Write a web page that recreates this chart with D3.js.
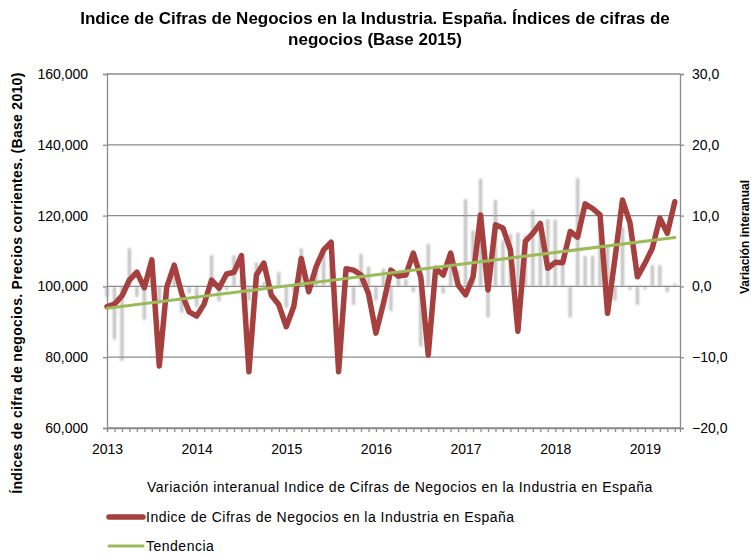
<html>
<head>
  <meta charset='utf-8' />
  <style>
    body { margin: 0; padding: 0; background: #fff; }
    text { font-family: 'Liberation Sans', Arial, sans-serif; fill: #000; }
  </style>
</head>
<body>
  <svg width='751' height='554'></svg>

<script src="https://d3js.org/d3.v7.min.js"></script>
<script>
/////////////////
/// Data
/////////////////

  // monthly index, Jan 2013 .. May 2019 (thousands)
  indice = [
    94.3, 95.0, 97.3, 101.8, 104.0, 99.6, 107.5, 77.5, 99.8, 106.0, 98.0, 92.8,
    91.6, 95.0, 101.8, 99.5, 103.5, 104.0, 108.7, 75.9, 103.2, 106.6, 97.5, 94.8,
    88.6, 94.3, 107.9, 98.5, 105.6, 110.3, 112.5, 75.9, 105.0, 104.6, 103.2, 98.0,
    86.8, 95.2, 104.6, 102.9, 103.2, 109.4, 102.7, 80.6, 105.1, 103.2, 109.4, 100.4,
    97.6, 102.7, 120.2, 99.0, 117.4, 116.5, 110.3, 87.3, 112.7, 115.0, 117.8, 105.1,
    106.8, 106.7, 115.5, 113.9, 123.3, 122.0, 120.2, 92.4, 108.0, 124.4, 118.0, 102.7,
    106.5, 110.8, 119.3, 115.0, 123.9
  ];

  // year-on-year change (%)
  variacion = [
    -1.5, -7.5, -10.5, 5.4, -1.5, -4.7, 1.0, -2.5, -2.0, 1.5, -3.7, -1.0,
    -2.9, 0.0, 4.4, -2.1, -0.5, 4.4, 1.1, -2.0, 3.4, 0.6, -0.5, 2.0,
    -3.0, -0.7, 5.4, -1.0, 2.8, 5.6, 3.2, 0.2, 1.5, -2.6, 4.6, 2.8,
    -2.0, 2.5, -3.5, 1.8, 1.0, -0.8, -8.5, 6.0, 0.5, -1.0, 4.5, 2.2,
    12.3, 7.9, 15.2, -4.4, 12.2, 6.5, 7.4, 7.6, 7.2, 10.8, 7.7, 9.5,
    9.4, 3.5, -4.4, 15.3, 4.3, 4.3, 9.0, 5.8, -2.0, 8.4, -0.5, -2.6,
    -0.4, 3.0, 3.0, -0.8, 0.4
  ];

  // trend line: first and last month
  tendencia = [[0, 93.8], [76, 113.8]];

  years = ['2013', '2014', '2015', '2016', '2017', '2018', '2019'];
  leftTicks = [60000, 80000, 100000, 120000, 140000, 160000];
  rightTicks = [-20, -10, 0, 10, 20, 30];

  titleLines = ['Indice de Cifras de Negocios en la Industria. España. Índices de cifras de',
                'negocios (Base 2015)'];
  legendLabels = ['Variación interanual Indice de Cifras de Negocios en la Industria en España',
                  'Indice de Cifras de Negocios en la Industria en España',
                  'Tendencia'];

/////////////////
/// Scales
/////////////////

  svg = d3.select('svg');

  x = d3.scaleLinear().domain([0, 76.7]).range([107, 680]);
  yL = d3.scaleLinear().domain([60000, 160000]).range([428, 74]);
  yR = d3.scaleLinear().domain([-20, 30]).range([428, 74]);

  esFmt = d3.formatLocale({decimal: ',', thousands: '.', grouping: [3], currency: ['', '']}).format('.1f');

  defs = svg.append('defs');
  defs.append('filter').attr('id', 'blur')
    .attr('x', '-100%').attr('width', '300%')
    .attr('y', '-10%').attr('height', '120%')
    .append('feGaussianBlur').attr('stdDeviation', 1.3);

/////////////////
/// Grid + axes
/////////////////

  grid = svg.append('g');
  grid.selectAll('line')
    .data(leftTicks)
    .enter().append('line')
    .attr('x1', 107).attr('x2', 680)
    .attr('y1', d => yL(d)).attr('y2', d => yL(d))
    .attr('stroke', '#8c8c8c').attr('stroke-width', 1.3);

  leftAxis = svg.append('g')
    .attr('transform', 'translate(107,0)')
    .call(d3.axisLeft(yL).tickValues(leftTicks).tickFormat(d3.format(',')).tickSize(4).tickPadding(15));

  rightAxis = svg.append('g')
    .attr('transform', 'translate(680,0)')
    .call(d3.axisRight(yR).tickValues(rightTicks).tickFormat(esFmt).tickSize(4).tickPadding(8));

  bottomAxis = svg.append('g')
    .attr('transform', 'translate(0,428)')
    .call(d3.axisBottom(x).tickValues(d3.range(0, 77)).tickFormat('').tickSize(4));

  yearAxis = svg.append('g')
    .attr('transform', 'translate(0,428)')
    .call(d3.axisBottom(x).tickValues(years.map((d, i) => i * 12)).tickFormat((d, i) => years[i]).tickSize(0).tickPadding(16));

  [leftAxis, rightAxis, bottomAxis, yearAxis].forEach(a => {
    a.selectAll('path, line').attr('stroke', '#8c8c8c').attr('stroke-width', 1.3);
    a.selectAll('text').style('font-size', '14px').attr('fill', '#000');
  });
  yearAxis.select('path').remove();

/////////////////
/// Bars (secondary axis)
/////////////////

  svg.append('g')
    .attr('filter', 'url(#blur)')
    .selectAll('rect')
    .data(variacion)
    .enter().append('rect')
    .attr('x', (d, i) => x(i) - 1.5)
    .attr('width', 3)
    .attr('y', d => Math.min(yR(d), yR(0)))
    .attr('height', d => Math.abs(yR(d) - yR(0)))
    .attr('fill', '#a0a0a0')
    .attr('opacity', 0.7);

/////////////////
/// Lines
/////////////////

  line = d3.line()
    .x((d, i) => x(i))
    .y(d => yL(d * 1000));

  svg.append('path')
    .datum(indice)
    .attr('fill', 'none')
    .attr('stroke', '#a5403e')
    .attr('stroke-width', 5.5)
    .attr('stroke-linejoin', 'round')
    .attr('stroke-linecap', 'round')
    .attr('d', line);

  svg.append('path')
    .datum(tendencia)
    .attr('fill', 'none')
    .attr('stroke', '#9bbb59')
    .attr('stroke-width', 3)
    .attr('stroke-linecap', 'round')
    .attr('d', d3.line().x(d => x(d[0])).y(d => yL(d[1] * 1000)));

/////////////////
/// Titles
/////////////////

  svg.selectAll('.title')
    .data(titleLines)
    .enter().append('text')
    .attr('class', 'title')
    .attr('x', 375)
    .attr('y', (d, i) => 24 + i * 21)
    .attr('text-anchor', 'middle')
    .style('font-family', "'Liberation Sans Narrow', sans-serif")
    .style('font-size', '17px')
    .style('font-weight', 'bold')
    .text(d => d);

  svg.append('text')
    .attr('transform', 'translate(22,283) rotate(-90)')
    .attr('text-anchor', 'middle')
    .style('font-size', '14px')
    .style('font-weight', 'bold')
    .style('letter-spacing', '0.3px')
    .text('Índices de cifra de negocios. Precios corrientes. (Base 2010)');

  svg.append('text')
    .attr('transform', 'translate(749,237) rotate(-90)')
    .attr('text-anchor', 'middle')
    .style('font-size', '12px')
    .style('font-weight', 'bold')
    .text('Variación interanual');

/////////////////
/// Legend
/////////////////

  legend = svg.append('g');

  legend.append('text')
    .attr('x', 147).attr('y', 492)
    .style('font-size', '14px')
    .style('letter-spacing', '0.5px')
    .text(legendLabels[0]);

  legendLines = [[legendLabels[1], '#a5403e', 5.5, 517], [legendLabels[2], '#9bbb59', 3, 546]];

  legend.selectAll('.lg')
    .data(legendLines)
    .enter().append('line')
    .attr('x1', 109).attr('x2', 143)
    .attr('y1', d => d[3]).attr('y2', d => d[3])
    .attr('stroke', d => d[1])
    .attr('stroke-width', d => d[2])
    .attr('stroke-linecap', 'round');

  legend.selectAll('.lt')
    .data(legendLines)
    .enter().append('text')
    .attr('x', 146)
    .attr('y', d => d[3] + 5)
    .style('font-size', '14px')
    .style('letter-spacing', '0.5px')
    .text(d => d[0]);

</script>
</body>
</html>
